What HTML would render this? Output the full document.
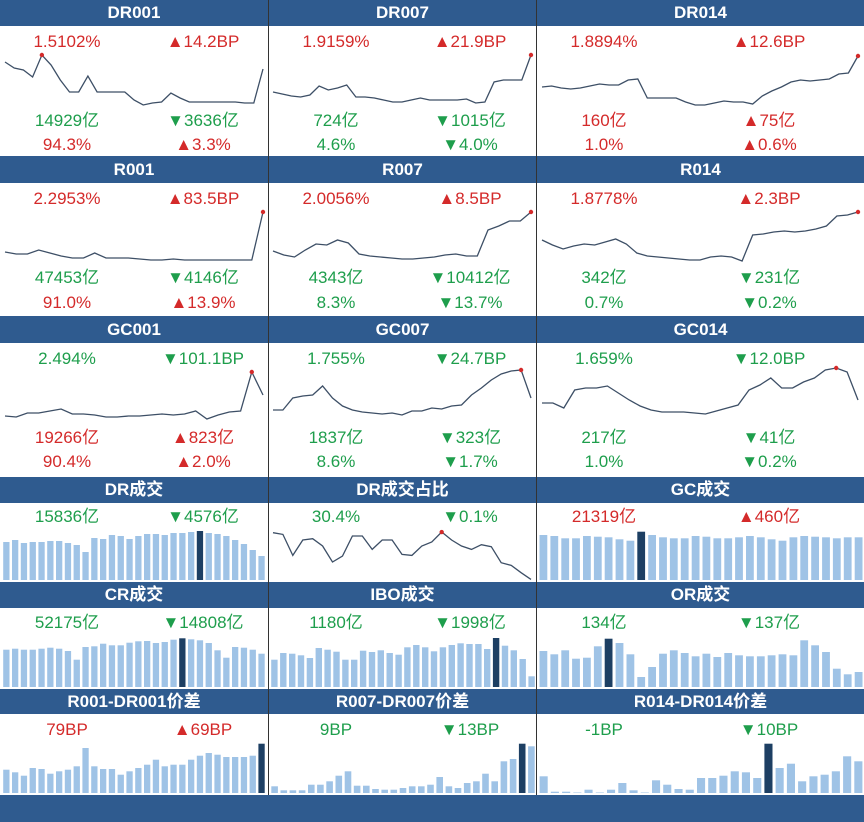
<!DOCTYPE html>
<html><head><meta charset="utf-8">
<style>
html,body{margin:0;padding:0;background:#fff;}
#root{position:relative;width:864px;height:822px;overflow:hidden;font-family:"Liberation Sans","Noto Sans CJK SC",sans-serif;}
.hdr{position:absolute;background:#2f5b8f;color:#fff;font-weight:bold;font-size:17px;text-align:center;line-height:26px;}
.t{position:absolute;font-size:17px;transform:translateX(-50%);white-space:nowrap;line-height:20px;}
.r{color:#d42a2a}.g{color:#1e9e4c}
.vsep{position:absolute;width:1px;background:#333;top:0;height:795px;}
svg{position:absolute;left:0;top:0;}
</style></head><body>
<div id="root">
<svg id="chart" width="864" height="822"></svg>
</div>
<script>
// ---- line series (values: relative level units) ----
const dr001 = [48,42,40,33,55,45,30,18,18,34,18,18,18,18,10,5,7,8,17,12,8,8,8,8,8,8,7,7,41];
const dr007 = [18,16,14,13,15,24,20,22,25,13,13,12,10,8,8,10,12,10,10,10,10,11,7,8,28,30,30,30,55];
const dr014 = [23,24,22,21,22,24,26,25,25,30,31,12,12,12,12,8,5,5,7,9,8,8,6,14,19,23,28,30,29,30,31,36,37,54];
const r001 = [13,11,11,15,12,9,7,7,12,7,7,7,6,5,5,6,5,5,5,5,5,5,5,53];
const r007 = [14,10,8,15,21,20,25,22,11,9,8,7,6,6,7,8,10,11,9,9,35,39,44,44,53];
const r014 = [25,20,16,19,21,20,23,26,21,12,9,8,7,6,5,5,8,9,8,4,30,31,33,34,33,34,36,39,49,50,53];
const gc001 = [9,8,12,12,14,16,11,11,10,8,8,9,9,10,11,10,11,14,6,10,13,14,53,30];
const gc007 = [15,15,27,29,30,39,27,19,15,13,12,11,12,10,14,14,17,16,19,20,30,37,45,51,54,55,27];
const gc014 = [22,22,17,35,37,37,39,32,25,19,15,13,13,13,12,11,14,17,20,35,40,47,37,37,43,47,55,57,53,25];
const drRatio = [150,145,82,128,132,110,62,80,140,140,100,128,128,85,82,110,122,152,128,110,100,114,108,60,52,30,10];
// ---- bar series ----
const drVol = [38,40,37,38,38,39,39,37,35,28,42,41,45,44,41,44,46,46,45,47,47,48,49,47,46,44,40,36,30,24];
const gcVol = [135,132,125,125,132,130,128,122,118,145,135,128,125,125,132,130,125,125,128,132,128,122,118,128,132,130,128,125,128,128];
const crVol = [112,115,112,112,115,118,115,108,82,120,122,130,125,125,133,137,138,132,135,142,146,143,140,132,110,88,120,118,112,100];
const iboVol = [82,102,100,95,87,117,112,106,82,82,109,105,110,102,97,119,126,119,107,119,126,131,129,129,114,147,124,110,84,32];
const orVol = [108,98,110,85,88,122,145,132,98,30,60,100,110,102,92,100,90,102,95,92,92,95,98,95,140,125,105,55,38,45];
const spr1 = [70,62,52,75,72,58,65,70,80,135,80,72,72,55,65,75,85,100,80,85,85,100,112,120,115,108,108,108,112,148];
const spr7 = [20,8,8,8,25,25,35,52,65,22,22,12,10,10,15,20,20,25,48,20,15,30,35,58,35,95,102,148,140];
const spr14 = [50,4,4,0,10,0,10,30,8,0,38,25,12,10,45,45,52,65,62,45,148,75,88,35,50,55,65,110,95];
// ---- highlight indices ----
const drVolHi = 22, gcVolHi = 9, crVolHi = 20, iboHi = 25, orHi = 6, spr1Hi = 29, spr7Hi = 27, spr14Hi = 20;

const svg = document.getElementById('chart');
const NS = 'http://www.w3.org/2000/svg';
const root = document.getElementById('root');

function xScale(i, n, x0, x1){ return x0 + (x1 - x0) * i / (n - 1); }
function yScale(v, base, k){ return base - v * k; }

function drawLine(vals, x0, x1, base, k, name){
  const pts = vals.map((v,i)=> xScale(i, vals.length, x0, x1).toFixed(1) + ',' + yScale(v, base, k).toFixed(1)).join(' ');
  const pl = document.createElementNS(NS,'polyline');
  pl.setAttribute('points', pts);
  pl.setAttribute('fill','none');
  pl.setAttribute('stroke','#3d4f66');
  pl.setAttribute('stroke-width','1.3');
  
  
  svg.appendChild(pl);
  let mi = 0; vals.forEach((v,i)=>{ if (v > vals[mi]) mi = i; });
  const c = document.createElementNS(NS,'circle');
  c.setAttribute('cx', xScale(mi, vals.length, x0, x1));
  c.setAttribute('cy', yScale(vals[mi], base, k));
  c.setAttribute('r', '2.2');
  c.setAttribute('fill', '#d42a2a');
  
  
  svg.appendChild(c);
}

function drawBars(vals, x0, x1, base, k, hi, name){
  const step = (x1 - x0) / vals.length;
  vals.forEach((v,i)=>{
    const r = document.createElementNS(NS,'rect');
    const h = Math.max(0.5, v * k);
    r.setAttribute('x', (x0 + i*step + step*0.14).toFixed(1));
    r.setAttribute('y', (base - h).toFixed(1));
    r.setAttribute('width', (step*0.72).toFixed(1));
    r.setAttribute('height', h.toFixed(1));
    r.setAttribute('fill', i === hi ? '#1d3f63' : '#9fc3e6');
    
    
    svg.appendChild(r);
  });
}

// column geometry
const C = [[0,268],[269,536],[537,864]];
const L = [[5,263],[273,531],[542,858]];

// headers
const headers = [
  [0,26,['DR001','DR007','DR014']],
  [156,183,['R001','R007','R014']],
  [316,343,['GC001','GC007','GC014']],
  [477,503,['DR成交','DR成交占比','GC成交']],
  [582,608,['CR成交','IBO成交','OR成交']],
  [689,714,['R001-DR001价差','R007-DR007价差','R014-DR014价差']]
];
headers.forEach(([t,b,names])=>{
  names.forEach((n,ci)=>{
    const d = document.createElement('div');
    d.className = 'hdr';
    d.style.left = C[ci][0] + 'px'; d.style.width = (C[ci][1]-C[ci][0]) + 'px';
    d.style.top = t + 'px'; d.style.height = (b-t) + 'px'; d.style.lineHeight = (b-t) + 'px';
    d.textContent = n;
    
    
    root.appendChild(d);
  });
});
const foot = document.createElement('div');
foot.className = 'hdr';
foot.style.left = '0px'; foot.style.width = '864px'; foot.style.top = '795px'; foot.style.height = '27px';


root.appendChild(foot);

[268,536].forEach(x=>{
  const v = document.createElement('div');
  v.className = 'vsep'; v.style.left = x + 'px';
  
  
  root.appendChild(v);
});

// text labels: [col, y, leftText, leftCls, rightText, rightCls]
const cx = [[67,203],[336,470],[604,769]];
const texts = [
  [0,32,'1.5102%','r','▲14.2BP','r'],[0,111,'14929亿','g','▼3636亿','g'],[0,135,'94.3%','r','▲3.3%','r'],
  [1,32,'1.9159%','r','▲21.9BP','r'],[1,111,'724亿','g','▼1015亿','g'],[1,135,'4.6%','g','▼4.0%','g'],
  [2,32,'1.8894%','r','▲12.6BP','r'],[2,111,'160亿','r','▲75亿','r'],[2,135,'1.0%','r','▲0.6%','r'],
  [0,189,'2.2953%','r','▲83.5BP','r'],[0,268,'47453亿','g','▼4146亿','g'],[0,293,'91.0%','r','▲13.9%','r'],
  [1,189,'2.0056%','r','▲8.5BP','r'],[1,268,'4343亿','g','▼10412亿','g'],[1,293,'8.3%','g','▼13.7%','g'],
  [2,189,'1.8778%','r','▲2.3BP','r'],[2,268,'342亿','g','▼231亿','g'],[2,293,'0.7%','g','▼0.2%','g'],
  [0,349,'2.494%','g','▼101.1BP','g'],[0,428,'19266亿','r','▲823亿','r'],[0,452,'90.4%','r','▲2.0%','r'],
  [1,349,'1.755%','g','▼24.7BP','g'],[1,428,'1837亿','g','▼323亿','g'],[1,452,'8.6%','g','▼1.7%','g'],
  [2,349,'1.659%','g','▼12.0BP','g'],[2,428,'217亿','g','▼41亿','g'],[2,452,'1.0%','g','▼0.2%','g'],
  [0,507,'15836亿','g','▼4576亿','g'],[1,507,'30.4%','g','▼0.1%','g'],[2,507,'21319亿','r','▲460亿','r'],
  [0,613,'52175亿','g','▼14808亿','g'],[1,613,'1180亿','g','▼1998亿','g'],[2,613,'134亿','g','▼137亿','g'],
  [0,720,'79BP','r','▲69BP','r'],[1,720,'9BP','g','▼13BP','g'],[2,720,'-1BP','g','▼10BP','g']
];
texts.forEach(([c,y,a,ac,b,bc])=>{
  [[a,ac,0],[b,bc,1]].forEach(([s,cl,k])=>{
    const d = document.createElement('div');
    d.className = 't ' + cl;
    d.style.left = cx[c][k] + 'px'; d.style.top = y + 'px';
    d.textContent = s;
    
    
    root.appendChild(d);
  });
});

// line charts
drawLine(dr001, L[0][0], L[0][1], 110, 1, 'dr001-line');
drawLine(dr007, L[1][0], L[1][1], 110, 1, 'dr007-line');
drawLine(dr014, L[2][0], L[2][1], 110, 1, 'dr014-line');
drawLine(r001, L[0][0], L[0][1], 265, 1, 'r001-line');
drawLine(r007, L[1][0], L[1][1], 265, 1, 'r007-line');
drawLine(r014, L[2][0], L[2][1], 265, 1, 'r014-line');
drawLine(gc001, L[0][0], L[0][1], 425, 1, 'gc001-line');
drawLine(gc007, L[1][0], L[1][1], 425, 1, 'gc007-line');
drawLine(gc014, L[2][0], L[2][1], 425, 1, 'gc014-line');
drawLine(drRatio, 273, 531, 582.7, 1/3, 'dr-ratio-line');

// bar charts
drawBars(drVol, 2, 266, 580, 1, drVolHi, 'dr-volume');
drawBars(gcVol, 538, 864, 580, 1/3, gcVolHi, 'gc-volume');
drawBars(crVol, 2, 266, 687, 1/3, crVolHi, 'cr-volume');
drawBars(iboVol, 270, 536, 687, 1/3, iboHi, 'ibo-volume');
drawBars(orVol, 538, 864, 687, 1/3, orHi, 'or-volume');
drawBars(spr1, 2, 266, 793, 1/3, spr1Hi, 'r001-dr001-spread');
drawBars(spr7, 270, 536, 793, 1/3, spr7Hi, 'r007-dr007-spread');
drawBars(spr14, 538, 864, 793, 1/3, spr14Hi, 'r014-dr014-spread');
</script>
</body></html>
